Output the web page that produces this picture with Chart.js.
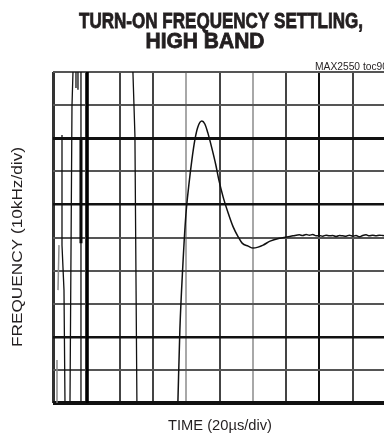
<!DOCTYPE html>
<html lang="en">
<head>
<meta charset="UTF-8">
<title>Turn-on Frequency Settling, High Band</title>
<script src="https://cdn.jsdelivr.net/npm/chart.js"></script>
<style>
  html, body { margin: 0; padding: 0; background: #fff; overflow: hidden; }
  #wrap { position: relative; width: 384px; height: 436px; overflow: hidden; }
  #scope { position: absolute; left: 0; top: 0; }
</style>
</head>
<body>
<div id="wrap"><canvas id="scope" width="392" height="436"></canvas></div>
<script>
// screen is 10 x 10 divisions: time 20us/div, frequency 10kHz/div
const divTicks = [0, 1, 2, 3, 4, 5, 6, 7, 8, 9, 10];

// settling trace (in divisions)
const settleTime = [3.75, 3.81, 3.90, 3.99, 4.08, 4.17, 4.26, 4.35, 4.47, 4.56, 4.65, 4.77, 4.89, 4.98,
  5.11, 5.26, 5.41, 5.56, 5.68, 5.86, 6.01, 6.16, 6.31, 6.52, 6.82, 7.21,
  7.4, 7.5, 7.6, 7.7, 7.8, 7.9, 8.0, 8.1, 8.2, 8.3, 8.4, 8.5, 8.6, 8.7, 8.8, 8.9,
  9.0, 9.1, 9.2, 9.3, 9.4, 9.5, 9.6, 9.7, 9.8, 9.9, 10.0];
const settleFreq = [0, 2.21, 4.17, 5.68, 6.59, 7.34, 7.95, 8.34, 8.52, 8.43, 8.16, 7.70, 7.19, 6.74,
  6.22, 5.74, 5.32, 5.02, 4.83, 4.74, 4.68, 4.71, 4.77, 4.89, 4.98, 5.05,
  5.08, 5.06, 5.09, 5.07, 5.09, 5.05, 5.06, 5.04, 5.07, 5.05, 5.06, 5.03, 5.06, 5.05, 5.04, 5.07,
  5.04, 5.06, 5.02, 5.06, 5.08, 5.05, 5.07, 5.05, 5.07, 5.06, 5.05];

// turn-on sweep strokes at the left of the screen (null freq = pen up)
const sweepTime = [0.27, 0.27, 0.33, 0.36, 0.36,
  0.60, 0.57, 0.51, 0.51,
  0.69, 0.69, 0.69,
  0.75, 0.75, 0.75,
  0.84, 0.84, 0.84,
  2.40, 2.46, 2.52];
const sweepFreq = [8.10, 4.77, 3.41, 0, null,
  10, 8.97, 0, null,
  10, 9.52, null,
  10, 9.46, null,
  10, 0, null,
  10, 8.10, 0];

const faintTime = [0.18, 0.15, 0.15, 0.12, 0.12];
const faintFreq = [4.77, 3.41, null, 1.30, 0];

const heavyTime = [0.84, 0.84, 0.84, 1.03, 1.03];
const heavyFreq = [7.95, 4.83, null, 10, 0];

function toPoints(xs, ys) {
  return xs.map((x, i) => ({ x: x, y: ys[i] }));
}

// grid shading as it appears on the scope photo
function vGridColor(v) {
  if (v === 4 || v === 6) return '#a8a8a8';
  if (v === 8) return '#111';
  if (v === 0) return '#333';
  return '#444';
}
function hGridColor(v) {
  if (v === 0 || v === 2 || v === 6 || v === 8) return '#111';
  return '#555';
}
function hGridWidth(v) {
  if (v === 0) return 4;
  if (v === 8) return 3;
  if (v === 2 || v === 6) return 2.5;
  return 2;
}

const sans = '"Liberation Sans", Arial, Helvetica, sans-serif';

function fitText(c, text, x, baseline, width, font, align, angle, heavy) {
  c.save();
  c.font = font;
  const w = c.measureText(text).width;
  c.translate(x, baseline);
  if (angle) c.rotate(angle);
  c.scale(width / w, 1);
  c.textAlign = align;
  c.textBaseline = 'alphabetic';
  c.fillText(text, 0, 0);
  if (heavy) {
    c.lineWidth = heavy;
    c.strokeStyle = c.fillStyle;
    c.strokeText(text, 0, 0);
  }
  c.restore();
}

const scopeText = {
  id: 'scopeText',
  afterDraw(chart) {
    const c = chart.ctx;
    c.save();
    c.fillStyle = '#231f20';
    fitText(c, 'TURN-ON FREQUENCY SETTLING,', 221, 28, 284, 'bold 22px ' + sans, 'center', 0, 0.8);
    fitText(c, 'HIGH BAND', 205, 48, 119, 'bold 22px ' + sans, 'center', 0, 0.8);
    fitText(c, 'MAX2550 toc90', 315, 70, 73, '10px ' + sans, 'left');
    fitText(c, 'FREQUENCY (10kHz/div)', 22, 247, 200, '14px ' + sans, 'center', -Math.PI / 2);
    fitText(c, 'TIME (20\u00b5s/div)', 220, 430, 104, '14px ' + sans, 'center');
    c.restore();
  }
};

const ctx = document.getElementById('scope').getContext('2d');
const scopeChart = new Chart(ctx, {
  type: 'line',
  data: {
    datasets: [{
      label: 'Sweep',
      data: toPoints(sweepTime, sweepFreq),
      borderColor: '#111',
      borderWidth: 1.3,
      pointRadius: 0,
      tension: 0,
      spanGaps: false
    }, {
      label: 'Sweep faint',
      data: toPoints(faintTime, faintFreq),
      borderColor: '#888',
      borderWidth: 1.5,
      pointRadius: 0,
      tension: 0,
      spanGaps: false
    }, {
      label: 'Sweep heavy',
      data: toPoints(heavyTime, heavyFreq),
      borderColor: '#000',
      borderWidth: 3,
      pointRadius: 0,
      tension: 0,
      spanGaps: false
    }, {
      label: 'Settling',
      data: toPoints(settleTime, settleFreq),
      borderColor: '#111',
      borderWidth: 1.5,
      pointRadius: 0,
      cubicInterpolationMode: 'monotone'
    }]
  },
  options: {
    responsive: false,
    animation: false,
    devicePixelRatio: 1,
    layout: { padding: { left: 53, right: 6, top: 72, bottom: 33 } },
    plugins: {
      legend: { display: false },
      tooltip: { enabled: false },
      title: { display: false }
    },
    scales: {
      x: {
        type: 'linear',
        min: divTicks[0],
        max: divTicks[divTicks.length - 1],
        afterBuildTicks: (axis) => { axis.ticks = divTicks.map(v => ({ value: v })); },
        ticks: { display: false },
        grid: {
          drawTicks: false,
          color: (c) => vGridColor(c.tick.value),
          lineWidth: (c) => (c.tick.value === 0 ? 3 : 2)
        },
        border: { display: false }
      },
      y: {
        type: 'linear',
        min: divTicks[0],
        max: divTicks[divTicks.length - 1],
        afterBuildTicks: (axis) => { axis.ticks = divTicks.map(v => ({ value: v })); },
        ticks: { display: false },
        grid: {
          drawTicks: false,
          color: (c) => hGridColor(c.tick.value),
          lineWidth: (c) => hGridWidth(c.tick.value)
        },
        border: { display: false }
      }
    }
  },
  plugins: [scopeText]
});
</script>
</body>
</html>
